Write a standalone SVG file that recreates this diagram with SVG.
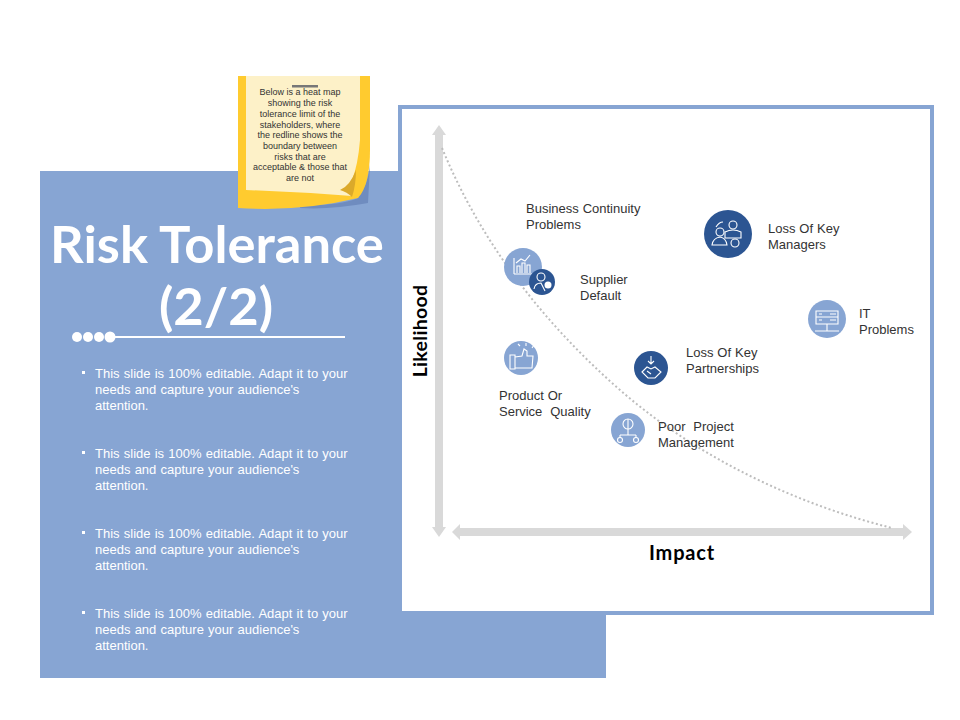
<svg xmlns="http://www.w3.org/2000/svg" width="960" height="720" viewBox="0 0 960 720">
<style>
.t{font-family:"Liberation Sans",Arial,sans-serif;font-size:13px;fill:#333;word-spacing:.3px}
.b{font-family:"Liberation Sans",Arial,sans-serif;font-size:13px;fill:#fff;word-spacing:.6px}
.h{font-family:Lato,"Open Sans",sans-serif;font-weight:700;fill:#fff;font-size:52.500px;text-anchor:middle}
.a{font-family:Lato,"Open Sans",sans-serif;font-weight:700;fill:#000;font-size:20px;text-anchor:middle;letter-spacing:.8px}
.n{font-family:"Liberation Sans",Arial,sans-serif;font-size:9px;fill:#333;text-anchor:middle}
.i{fill:none;stroke:#fff;stroke-width:1.100}
.l{fill:#87a5d3}.d{fill:#2c5592}
</style>
<rect width="960" height="720" fill="#fff"/>
<rect x="40" y="171" width="566" height="507" fill="#87a5d3"/>
<rect x="400" y="107" width="532" height="506" fill="#fff" stroke="#87a5d3" stroke-width="4"/>
<g id="note">
<path d="M300 205Q340 206 358 198Q368 185 370 165L368 203Q330 210 300 208Z" fill="#6f8cbf"/>
<path d="M238 76H370V150Q370 185 358 198Q300 212 238 208Z" fill="#ffcb2f"/>
<path d="M246 76H360V140Q358 165 352 180Q350 190 352 196Q300 192 246 190Z" fill="#fdf1c8"/>
<path d="M340 190Q350 186 356 170Q356 185 352 197Q347 192 340 190Z" fill="#dba92a"/>
<rect x="292" y="85" width="26" height="2.500" fill="#777"/>
<text class="n"><tspan x="300" y="95">Below is a heat map</tspan><tspan x="300" y="106">showing the risk</tspan><tspan x="300" y="117">tolerance limit of the</tspan><tspan x="300" y="128">stakeholders, where</tspan><tspan x="300" y="138">the redline shows the</tspan><tspan x="300" y="149">boundary between</tspan><tspan x="300" y="160">risks that are</tspan><tspan x="300" y="170">acceptable &amp; those that</tspan><tspan x="300" y="181">are not</tspan></text>
</g>
<g id="title">
<text class="h" x="217" y="263">Risk Tolerance</text>
<text class="h" x="216" y="325">(2/2)</text>
<circle cx="77" cy="337" r="5" fill="#fff"/><circle cx="88" cy="337" r="5" fill="#fff"/><circle cx="99" cy="337" r="5" fill="#fff"/><circle cx="110" cy="337" r="5.500" fill="#fff"/>
<rect x="110" y="336" width="235" height="2" fill="#fff"/>
</g>
<g id="bullets">
<g id="bullet1"><rect x="82" y="371" width="3" height="3" fill="#fff"/><text class="b"><tspan x="95" y="378">This slide is 100% editable. Adapt it to your</tspan><tspan x="95" y="394">needs and capture your audience's</tspan><tspan x="95" y="410">attention.</tspan></text></g>
<g id="bullet2"><rect x="82" y="451" width="3" height="3" fill="#fff"/><text class="b"><tspan x="95" y="458">This slide is 100% editable. Adapt it to your</tspan><tspan x="95" y="474">needs and capture your audience's</tspan><tspan x="95" y="490">attention.</tspan></text></g>
<g id="bullet3"><rect x="82" y="531" width="3" height="3" fill="#fff"/><text class="b"><tspan x="95" y="538">This slide is 100% editable. Adapt it to your</tspan><tspan x="95" y="554">needs and capture your audience's</tspan><tspan x="95" y="570">attention.</tspan></text></g>
<g id="bullet4"><rect x="82" y="611" width="3" height="3" fill="#fff"/><text class="b"><tspan x="95" y="618">This slide is 100% editable. Adapt it to your</tspan><tspan x="95" y="634">needs and capture your audience's</tspan><tspan x="95" y="650">attention.</tspan></text></g>
</g>
<g id="connectors">
<path d="M439 125L446 135H443V527H446L439 537L432 527H435V135H432Z" fill="#d9d9d9"/>
<path d="M452 532L460 524V528H903V524L912 532L903 540V536H460V540Z" fill="#d9d9d9"/>
<path d="M442 148C480 240 540 320 620 390C700 460 800 505 892 528" fill="none" stroke="#bdbdbd" stroke-width="2" stroke-dasharray="2 2.500"/>
</g>
<text class="a" style="font-size:19.500px;letter-spacing:.3px" transform="translate(427,331) rotate(-90)">Likelihood</text>
<text class="a" x="682" y="560">Impact</text>
<g id="node-business">
<circle class="l" cx="523" cy="267" r="19"/>
<path class="i" d="M514 274V258M514 274H532M517 273V266H520V273M522 273V263H525V273M527 273V265H530V273M516 263L521 259L525 261L530 255"/>
<text class="t"><tspan x="526" y="213">Business Continuity</tspan><tspan x="526" y="229">Problems</tspan></text>
</g>
<g id="node-supplier">
<circle class="d" cx="542" cy="282" r="13"/>
<circle class="i" cx="541" cy="277" r="4"/><path class="i" d="M534 289Q535 283 541 283L545 291"/><circle cx="548" cy="285" r="3.500" fill="#fff"/>
<text class="t"><tspan x="580" y="284">Supplier</tspan><tspan x="580" y="300">Default</tspan></text>
</g>
<g id="node-quality">
<circle class="l" cx="521" cy="358" r="17"/>
<path class="i" d="M510 355H515V369H510ZM515 357L522 356L524 349L527 351V356H533L532 368H515M526 346V343M532 348L534 345M520 346L518 344"/>
<text class="t"><tspan x="499" y="400">Product Or</tspan><tspan x="499" y="416">Service&#160; Quality</tspan></text>
</g>
<g id="node-partnerships">
<circle class="d" cx="651" cy="368" r="17"/>
<path class="i" d="M642 372L647 367L651 369L655 367L661 372L655 378H648ZM647 371L651 374M651 356V364M648 361L651 364L654 361"/>
<text class="t"><tspan x="686" y="357">Loss Of Key</tspan><tspan x="686" y="373">Partnerships</tspan></text>
</g>
<g id="node-poor">
<circle class="l" cx="628" cy="430" r="17"/>
<circle class="i" cx="628" cy="424" r="5"/><path class="i" d="M628 419V435M620 435H636M620 435V438M636 435V438"/><circle class="i" cx="620" cy="440" r="2.500"/><circle class="i" cx="636" cy="440" r="2.500"/>
<text class="t"><tspan x="658" y="431">Poor&#160; Project</tspan><tspan x="658" y="447">Management</tspan></text>
</g>
<g id="node-managers">
<circle class="d" cx="728" cy="234" r="24"/>
<circle class="i" cx="733" cy="225" r="4"/><path class="i" d="M725 238V232Q733 228 741 232V238ZM712 245Q713 238 720 237Q726 238 727 245ZM716 227Q719 222 723 222"/><circle class="i" cx="720" cy="232" r="4"/><circle class="i" cx="735" cy="243" r="4"/>
<text class="t"><tspan x="768" y="233">Loss Of Key</tspan><tspan x="768" y="249">Managers</tspan></text>
</g>
<g id="node-it">
<circle class="l" cx="827" cy="319" r="19"/>
<path class="i" d="M816 311H838V317H816ZM816 317H838V324H816ZM827 324V331M815 331H839"/>
<path d="M819 314H822M830 314H836M819 320H822M830 320H836" stroke="#fff" fill="none"/>
<text class="t"><tspan x="859" y="318">IT</tspan><tspan x="859" y="334">Problems</tspan></text>
</g>
</svg>
